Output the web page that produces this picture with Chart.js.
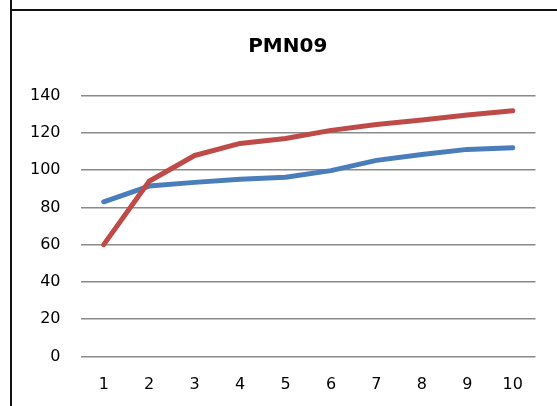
<!DOCTYPE html>
<html>
<head>
<meta charset="utf-8">
<script src="https://cdn.jsdelivr.net/npm/chart.js@4/dist/chart.umd.min.js"></script>
<style>
  html, body { margin: 0; padding: 0; background: #fff; }
  #wrap { position: relative; width: 557px; height: 406px; overflow: hidden; }
  #chart { position: absolute; left: 0; top: 0; }
  .rule { position: absolute; background: #111; }
  #vrule { left: 10px; top: 0; width: 2px; height: 406px; }
  #hrule { left: 12px; top: 9px; height: 2px; right: 0; }
</style>
</head>
<body>
<div id="wrap">
  <canvas id="chart" width="557" height="406"></canvas>
  <div class="rule" id="vrule"></div>
  <div class="rule" id="hrule"></div>
</div>
<script>
// Categories along the x axis
const categories = ['1', '2', '3', '4', '5', '6', '7', '8', '9', '10'];
// Series values
const blueSeries = [83, 91.4, 93.4, 95.1, 96.1, 99.7, 105.2, 108.3, 111.1, 112];
const redSeries = [60, 94, 107.8, 114.3, 116.9, 121.3, 124.4, 126.8, 129.5, 131.8];
// Value axis ticks
const yTicks = [0, 20, 40, 60, 80, 100, 120, 140];
const chartTitle = 'PMN09';

const FONT = "'DejaVu Sans', sans-serif";

// The title is centred over the whole framed chart, which starts further left
// than the plot area; narrow the title box's left edge accordingly.
const titleCentring = {
  id: 'titleCentring',
  afterLayout(chart) {
    if (chart.titleBlock) chart.titleBlock.left = 40;
  }
};

new Chart(document.getElementById('chart'), {
  type: 'line',
  data: {
    labels: categories,
    datasets: [
      {
        data: blueSeries,
        borderColor: '#4A7EBB',
        borderWidth: 5,
        borderCapStyle: 'round',
        borderJoinStyle: 'round',
        pointRadius: 0,
        tension: 0,
        fill: false,
        order: 1
      },
      {
        data: redSeries,
        borderColor: '#BE4B48',
        borderWidth: 5,
        borderCapStyle: 'round',
        borderJoinStyle: 'round',
        pointRadius: 0,
        tension: 0,
        fill: false,
        order: 0
      }
    ]
  },
  plugins: [titleCentring],
  options: {
    responsive: false,
    animation: false,
    devicePixelRatio: 1,
    layout: { padding: { left: 0, right: 21.5, top: 0, bottom: 0 } },
    plugins: {
      legend: { display: false },
      tooltip: { enabled: false },
      title: {
        display: true,
        text: chartTitle,
        color: '#000',
        font: { family: FONT, size: 20, weight: 'bold', lineHeight: 1.2 },
        padding: { top: 34.7, bottom: 36.8 }
      }
    },
    scales: {
      x: {
        offset: true,
        grid: { display: false, drawTicks: false },
        border: { display: false },
        ticks: {
          color: '#000',
          padding: 18.6,
          maxRotation: 0,
          autoSkip: false,
          font: { family: FONT, size: 16, lineHeight: 1.2 }
        },
        afterFit(scale) { scale.height = 49.5; }
      },
      y: {
        min: yTicks[0],
        max: yTicks[yTicks.length - 1],
        afterBuildTicks(scale) { scale.ticks = yTicks.map(v => ({ value: v })); },
        grid: { color: '#8a8a8a', lineWidth: 1.5, drawTicks: false },
        border: { display: false },
        ticks: {
          color: '#000',
          padding: 20.5,
          font: { family: FONT, size: 16, lineHeight: 1.2 }
        },
        afterFit(scale) { scale.width = 81; }
      }
    }
  }
});
</script>
</body>
</html>
